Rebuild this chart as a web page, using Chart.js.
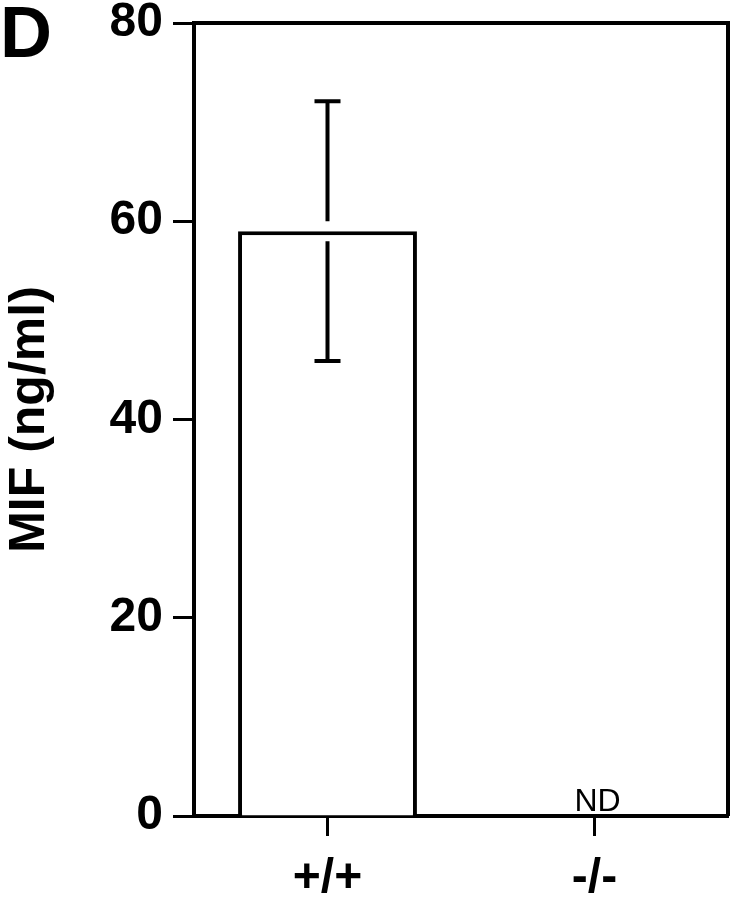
<!DOCTYPE html>
<html>
<head>
<meta charset="utf-8">
<script src="https://cdn.jsdelivr.net/npm/chart.js@4/dist/chart.umd.min.js"></script>
<style>
  html, body { margin: 0; padding: 0; background: #fff; }
  #wrap { width: 735px; height: 899px; position: relative; }
</style>
</head>
<body>
<div id="wrap"><canvas id="chart"></canvas></div>
<script>
'use strict';

// genotype groups and MIF levels (ng/ml)
var categories = ['+/+', '-/-'];
var mifMean = [59, null];      // -/- not detected
var mifErr = [13.1, null];
var notes = ['', 'ND'];
var yTicks = [0, 20, 40, 60, 80];
var panelLetter = 'D';

var FONT = "'Liberation Sans', Arial, Helvetica, sans-serif";

// frame round the plot + panel letter
var framePlugin = {
  id: 'frame',
  afterDraw: function(chart) {
    var ctx = chart.ctx;
    var a = chart.chartArea;
    ctx.save();
    ctx.strokeStyle = '#000';
    ctx.lineWidth = 4;
    ctx.beginPath();
    ctx.moveTo(a.left, a.top);
    ctx.lineTo(a.right, a.top);
    ctx.lineTo(a.right, a.bottom);
    ctx.stroke();

    ctx.fillStyle = '#000';
    ctx.font = 'bold 72px ' + FONT;
    ctx.textAlign = 'left';
    ctx.textBaseline = 'alphabetic';
    ctx.fillText(panelLetter, 0, 57);
    ctx.restore();
  }
};

// error bars, with a small white gap where they cross the bar top
var errorPlugin = {
  id: 'errbars',
  afterDatasetsDraw: function(chart) {
    var ctx = chart.ctx;
    var y = chart.scales.y;
    var meta = chart.getDatasetMeta(0);
    ctx.save();
    ctx.strokeStyle = '#000';
    ctx.lineWidth = 4;
    meta.data.forEach(function(bar, i) {
      if (mifMean[i] == null || mifErr[i] == null) return;
      var x = bar.x;
      var top = y.getPixelForValue(mifMean[i] + mifErr[i]);
      var bot = y.getPixelForValue(mifMean[i] - mifErr[i]);
      var mid = y.getPixelForValue(mifMean[i]);
      var gap = 10;
      ctx.beginPath();
      ctx.moveTo(x, top); ctx.lineTo(x, mid - gap);
      ctx.moveTo(x, mid + gap); ctx.lineTo(x, bot);
      ctx.moveTo(x - 13, top); ctx.lineTo(x + 13, top);
      ctx.moveTo(x - 13, bot); ctx.lineTo(x + 13, bot);
      ctx.stroke();
    });

    // "ND" notes sitting on the x axis
    ctx.fillStyle = '#000';
    ctx.font = '32px ' + FONT;
    ctx.textAlign = 'center';
    ctx.textBaseline = 'alphabetic';
    notes.forEach(function(t, i) {
      if (!t) return;
      var x = chart.scales.x.getPixelForValue(i);
      ctx.fillText(t, x + 3, y.getPixelForValue(0) - 5);
    });
    ctx.restore();
  }
};

var ctx = document.getElementById('chart').getContext('2d');

var myChart = new Chart(ctx, {
  type: 'bar',
  data: {
    labels: categories,
    datasets: [{
      data: mifMean,
      backgroundColor: '#fff',
      borderColor: '#000',
      borderWidth: 4,
      borderSkipped: 'bottom',
      categoryPercentage: 1,
      barPercentage: 0.67
    }]
  },
  options: {
    responsive: true,
    maintainAspectRatio: false,
    animation: false,
    layout: { padding: { top: 23, right: 7, left: 0, bottom: 0 } },
    plugins: {
      legend: { display: false },
      tooltip: { enabled: false }
    },
    scales: {
      x: {
        grid: {
          display: true,
          drawOnChartArea: false,
          drawTicks: true,
          tickLength: 20,
          tickWidth: 3,
          tickColor: '#000',
          offset: false
        },
        border: { display: true, color: '#000', width: 4 },
        ticks: {
          color: '#000',
          padding: 14,
          font: { family: FONT, size: 48, weight: 'bold' }
        },
        afterFit: function(scale) { scale.height = 83; }
      },
      y: {
        min: 0,
        max: 80,
        afterBuildTicks: function(scale) {
          scale.ticks = yTicks.map(function(v) { return { value: v }; });
        },
        grid: {
          display: true,
          drawOnChartArea: false,
          drawTicks: true,
          tickLength: 21,
          tickWidth: 3,
          tickColor: '#000'
        },
        border: { display: true, color: '#000', width: 4 },
        ticks: {
          color: '#000',
          padding: 10,
          font: { family: FONT, size: 48, weight: 'bold', lineHeight: 0.5 }
        },
        title: {
          display: true,
          text: 'MIF (ng/ml)',
          color: '#000',
          padding: 0,
          font: { family: FONT, size: 50, weight: 'bold' }
        },
        afterFit: function(scale) {
          scale.width = 194;
          scale.paddingTop = 0;
          scale.paddingBottom = 0;
        }
      }
    }
  },
  plugins: [framePlugin, errorPlugin]
});
</script>
</body>
</html>
